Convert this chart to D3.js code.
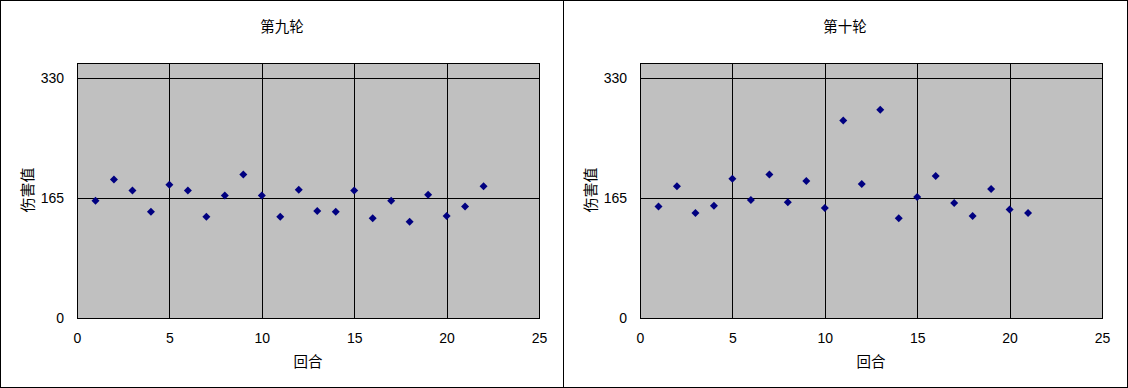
<!DOCTYPE html>
<html>
<head>
<meta charset="utf-8">
<script src="https://cdn.jsdelivr.net/npm/d3@7"></script>
<style>
  body { margin: 0; background: #fff; }
  svg { display: block; }
  text { font-family: "Noto Sans CJK SC", "Liberation Sans", sans-serif; fill: #000; }
</style>
</head>
<body>
<div id="chart"></div>
<script>
const titles = ["第九轮", "第十轮"];
const xLabel = "回合";
const yLabel = "伤害值";
const xTicks = [0, 5, 10, 15, 20, 25];
const yTicks = [0, 165, 330];
const round9 = [161, 190, 175, 146, 183, 175, 139, 168, 197, 168, 139, 176, 147, 146, 175, 137, 161, 132, 169, 140, 153, 181];
const round10 = [153, 181, 144, 154, 191, 162, 197, 159, 188, 151, 271, 184, 286, 137, 166, 195, 158, 140, 177, 149, 144];
const seriesList = [round9, round10];

const W = 1128, H = 388;
const panelW = 564;
const m = { top: 63, right: 25, bottom: 70, left: 77 };
const plotW = 539 - 77, plotH = 318 - 63;

const svg = d3.select("#chart").append("svg")
    .attr("width", W)
    .attr("height", H);

svg.append("rect")
    .attr("x", 0.5).attr("y", 0.5)
    .attr("width", W - 1).attr("height", H - 1)
    .attr("fill", "#fff").attr("stroke", "#000");

svg.append("line")
    .attr("x1", panelW - 0.5).attr("x2", panelW - 0.5)
    .attr("y1", 0).attr("y2", H)
    .attr("stroke", "#000");

// square-ish diamond like the spreadsheet marker
const diamond = "M0,-4L4,0L0,4L-4,0Z";

seriesList.forEach((values, i) => {
    const g = svg.append("g")
        .attr("transform", `translate(${i * (panelW - 1) + m.left},${m.top})`);

    const x = d3.scaleLinear().domain([0, 25]).range([0, plotW]);
    const y = d3.scaleLinear().domain([0, 350]).range([plotH, 0]);

    g.append("rect")
        .attr("x", 0.5).attr("y", 0.5)
        .attr("width", plotW).attr("height", plotH)
        .attr("fill", "#c0c0c0");

    // grid
    g.selectAll(".vgrid")
        .data(xTicks.filter(d => d > 0 && d < 25))
        .enter().append("line")
        .attr("x1", d => Math.round(x(d)) + 0.5).attr("x2", d => Math.round(x(d)) + 0.5)
        .attr("y1", 0).attr("y2", plotH)
        .attr("stroke", "#000");

    g.selectAll(".hgrid")
        .data(yTicks.filter(d => d > 0))
        .enter().append("line")
        .attr("x1", 0).attr("x2", plotW)
        .attr("y1", d => Math.round(y(d)) + 0.5).attr("y2", d => Math.round(y(d)) + 0.5)
        .attr("stroke", "#000");

    g.append("rect")
        .attr("x", 0.5).attr("y", 0.5)
        .attr("width", plotW).attr("height", plotH)
        .attr("fill", "none").attr("stroke", "#000");

    // axes (labels only)
    const xAxis = g.append("g")
        .attr("transform", `translate(0,${plotH})`)
        .call(d3.axisBottom(x).tickValues(xTicks).tickSize(0).tickPadding(15));
    xAxis.select(".domain").remove();
    xAxis.selectAll("text").style("font-size", "14px").style("font-family", "'Liberation Sans', sans-serif");

    const yAxis = g.append("g")
        .call(d3.axisLeft(y).tickValues(yTicks).tickSize(0).tickPadding(13));
    yAxis.select(".domain").remove();
    yAxis.selectAll("text").style("font-size", "14px").style("font-family", "'Liberation Sans', sans-serif");

    // points
    g.selectAll(".pt")
        .data(values)
        .enter().append("path")
        .attr("class", "pt")
        .attr("transform", (d, k) => `translate(${x(k + 1)},${y(d)})`)
        .attr("d", diamond)
        .attr("fill", "#000080");

    // titles
    g.append("text")
        .attr("x", panelW / 2 - m.left)
        .attr("y", 25 - m.top)
        .attr("text-anchor", "middle")
        .attr("dominant-baseline", "central")
        .style("font-size", "14.5px")
        .text(titles[i]);

    g.append("text")
        .attr("x", plotW / 2)
        .attr("y", 360 - m.top)
        .attr("text-anchor", "middle")
        .attr("dominant-baseline", "central")
        .style("font-size", "14.5px")
        .text(xLabel);

    g.append("text")
        .attr("transform", `translate(${26 - m.left},${190 - m.top}) rotate(-90)`)
        .attr("text-anchor", "middle")
        .attr("dominant-baseline", "central")
        .style("font-size", "15px")
        .text(yLabel);
});
</script>
</body>
</html>
